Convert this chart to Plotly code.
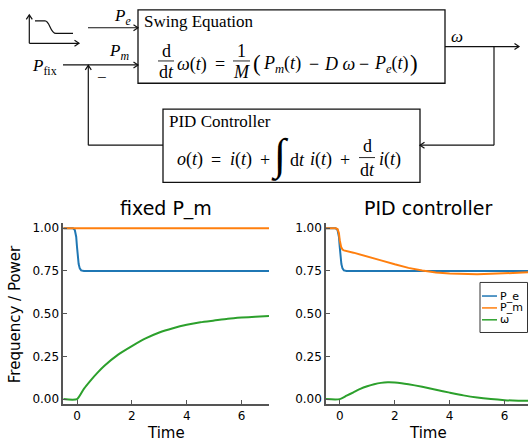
import plotly.graph_objects as go

# ---------------- data ----------------
t_pe = [-0.5, -0.15, -0.08, -0.03, 0.0, 0.03, 0.06, 0.1, 0.15, 0.25, 7.0]
pe = [1.0, 1.0, 0.99, 0.95, 0.89, 0.83, 0.79, 0.765, 0.753, 0.75, 0.75]

t_pm_fixed = [-0.5, 7.0]
pm_fixed = [1.0, 1.0]

t_w_fixed = [-0.5, 0.0, 0.25, 0.5, 0.75, 1.0, 1.5, 2.0, 2.5, 3.0, 3.5, 4.0,
             4.5, 5.0, 5.5, 6.0, 6.5, 7.0]
w_fixed = [0.0, 0.0, 0.06, 0.11, 0.155, 0.195, 0.26, 0.31, 0.355, 0.39, 0.415,
           0.435, 0.45, 0.46, 0.47, 0.477, 0.482, 0.486]

t_pm_pid = [-0.5, -0.15, -0.08, -0.03, 0.0, 0.05, 0.1, 0.15, 0.5, 1.0, 1.5, 2.0,
            2.5, 3.0, 3.5, 4.0, 4.5, 5.0, 5.5, 6.0, 6.5, 7.0]
pm_pid = [1.0, 1.0, 0.995, 0.97, 0.93, 0.89, 0.875, 0.87, 0.857, 0.836, 0.812,
          0.789, 0.768, 0.752, 0.741, 0.735, 0.732, 0.731, 0.733, 0.736, 0.74, 0.743]

t_w_pid = [-0.5, 0.0, 0.25, 0.5, 0.75, 1.0, 1.25, 1.5, 1.75, 2.0, 2.25, 2.5, 3.0,
           3.5, 4.0, 4.5, 5.0, 5.5, 6.0, 6.5, 7.0]
w_pid = [0.0, 0.0, 0.02, 0.04, 0.06, 0.075, 0.087, 0.095, 0.098, 0.097, 0.093,
         0.087, 0.072, 0.055, 0.038, 0.022, 0.009, 0.0, -0.006, -0.009, -0.01]

series_names = ["P_e", "P_m", "ω"]
colors = ["#1f77b4", "#ff7f0e", "#2ca02c"]
x_ticks = [0, 2, 4, 6]
y_ticks = [0, 0.25, 0.5, 0.75, 1.0]
titles = ["fixed P_m", "PID controller"]

# ---------------- helpers ----------------
W, H = 528, 444
SERIF = "Liberation Serif"
SANS = "DejaVu Sans"
K = "#111111"
MS = 18  # math font size


def X(p):
    return p / W


def Y(p):
    return 1 - p / H


shapes = []
annos = []


def line(x0, y0, x1, y1, w=1.2, color=K):
    shapes.append(dict(type="line", xref="paper", yref="paper",
                       x0=X(x0), y0=Y(y0), x1=X(x1), y1=Y(y1),
                       line=dict(color=color, width=w)))


def path(d, w=1.2):
    shapes.append(dict(type="path", xref="paper", yref="paper", path=d,
                       line=dict(color=K, width=w)))


def P(x, y):
    return f"{X(x):.5f},{Y(y):.5f}"


def head(x, y, direction):
    L, S = 4.5, 3.0
    if direction == "r":
        a, b = (x - L, y - S), (x - L, y + S)
    elif direction == "l":
        a, b = (x + L, y - S), (x + L, y + S)
    else:  # up
        a, b = (x - S, y + L), (x + S, y + L)
    path(f"M {P(*a)} L {P(x, y)} L {P(*b)}")


def text(x, y, s, size=MS, family=SERIF, xanchor="center", color="black", angle=0):
    annos.append(dict(x=X(x), y=Y(y), xref="paper", yref="paper", text=s,
                      showarrow=False, xanchor=xanchor, yanchor="middle",
                      font=dict(family=family, size=size, color=color),
                      textangle=angle, borderpad=0))


def frac(xc, y_num, y_bar, y_den, num, den, half):
    text(xc, y_num, num)
    text(xc, y_den, den)
    line(xc - half, y_bar, xc + half, y_bar, w=0.9)


# ---------------- block diagram ----------------
shapes.append(dict(type="rect", xref="paper", yref="paper",
                   x0=X(138), y0=Y(82), x1=X(445), y1=Y(8),
                   line=dict(color=K, width=1.3)))
shapes.append(dict(type="rect", xref="paper", yref="paper",
                   x0=X(163), y0=Y(182), x1=X(420), y1=Y(108),
                   line=dict(color=K, width=1.3)))

# small step icon
line(29.3, 41.7, 29.3, 13)
head(29.3, 13, "u")
line(29.3, 41.7, 79, 41.7)
head(79, 41.7, "r")
path(f"M {P(35, 19)} L {P(45, 19)} C {P(50, 19)} {P(50, 31.7)} {P(56, 31.7)} L {P(73, 31.7)}")

# P_e arrow
line(88, 26, 138, 26)
head(138, 26, "r")
text(122, 15, "<i>P</i><sub><i>e</i></sub>", size=17)

# P_fix / P_m arrow
line(63, 63.5, 138, 63.5)
head(138, 63.5, "r")
text(119, 50, "<i>P</i><sub><i>m</i></sub>", size=17)
text(44, 66, "<i>P</i><sub>fix</sub>", size=17)
text(102, 76, "−", size=17)

# feedback loop
line(88.3, 144.5, 88.3, 64)
head(88.3, 64, "u")
line(88.3, 144.5, 163, 144.5)
line(445, 45, 519, 45)
head(519, 45, "r")
text(457, 35, "<i>ω</i>", size=17)
line(494, 45, 494, 144.5)
line(494, 144.5, 420, 144.5)
head(420, 144.5, "l")

# Swing equation box text
text(143, 20, "Swing Equation", size=17, xanchor="left")
frac(166, 49, 59.5, 71, "d", "d<i>t</i>", 8)
text(192, 63, "<i>ω</i>(<i>t</i>)")
text(219.5, 63, "=")
frac(241.5, 49, 59.5, 71, "1", "<i>M</i>", 8.5)
text(256.5, 62, "(", size=23)
text(282, 63, "<i>P</i><sub><i>m</i></sub>(<i>t</i>)")
text(314, 63, "−")
text(339, 63, "<i>D</i> <i>ω</i>")
text(364, 63, "−")
text(391, 63, "<i>P</i><sub><i>e</i></sub>(<i>t</i>)")
text(414, 62, ")", size=23)

# PID box text
text(168, 121, "PID Controller", size=17, xanchor="left")
text(189.5, 159, "<i>o</i>(<i>t</i>)")
text(216, 159, "=")
text(240.5, 159, "<i>i</i>(<i>t</i>)")
text(264.5, 159, "+")
text(280, 155, "∫", size=44)
text(297, 159, "d<i>t</i>")
text(320.5, 159, "<i>i</i>(<i>t</i>)")
text(345, 159, "+")
frac(367, 145, 157, 169.5, "d", "d<i>t</i>", 8)
text(390, 159, "<i>i</i>(<i>t</i>)")

# ---------------- plots ----------------
fig = go.Figure()

left = [(t_pe, pe), (t_pm_fixed, pm_fixed), (t_w_fixed, w_fixed)]
right = [(t_pe, pe), (t_pm_pid, pm_pid), (t_w_pid, w_pid)]

for axes, data in (("", left), ("2", right)):
    for (tx, ty), name, c in zip(data, series_names, colors):
        fig.add_trace(go.Scatter(x=tx, y=ty, mode="lines", name=name, showlegend=False,
                                 line=dict(color=c, width=2,
                                           shape="spline" if name == "ω" else "linear",
                                           smoothing=0.6 if name == "ω" else None),
                                 xaxis="x" + axes, yaxis="y" + axes))

ydom = [Y(405.9), Y(223.1)]
axis_common = dict(showline=True, linecolor="#555555", linewidth=1.5, ticks="inside",
                   ticklen=4, tickcolor="#555555", tickwidth=1, showgrid=False,
                   zeroline=False, tickfont=dict(family=SANS, size=12, color="black"))

fig.update_layout(
    width=W, height=H,
    margin=dict(l=0, r=0, t=0, b=0),
    paper_bgcolor="white", plot_bgcolor="white",
    showlegend=False,
    xaxis=dict(domain=[X(63.3), X(269)], anchor="y", range=[-0.5, 7],
               tickvals=x_ticks, **axis_common),
    yaxis=dict(domain=ydom, anchor="x", range=[-0.03, 1.03], tickvals=y_ticks,
               tickformat=".2f", **axis_common),
    xaxis2=dict(domain=[X(326), 1.0], anchor="y2", range=[-0.5, 6.85],
                tickvals=x_ticks, **axis_common),
    yaxis2=dict(domain=ydom, anchor="x2", range=[-0.03, 1.03], tickvals=y_ticks,
                tickformat=".2f", **axis_common),
)

# subplot titles and axis titles
text(166, 208, titles[0], size=19, family=SANS)
text(428, 208, titles[1], size=19, family=SANS)
text(166, 435, "Time", size=15, family=SANS)
text(428, 435, "Time", size=15, family=SANS)
text(15, 315, "Frequency / Power", size=15, family=SANS, angle=-90)

# legend (right subplot)
shapes.append(dict(type="rect", xref="paper", yref="paper",
                   x0=X(480), y0=Y(333.5), x1=X(527.5), y1=Y(283),
                   line=dict(color="#333333", width=1), fillcolor="white", layer="above"))
for i, (name, c) in enumerate(zip(series_names, colors)):
    yy = 296.7 + 12 * i
    line(482, yy, 497, yy, w=1.5, color=c)
    text(498.5, yy, name, size=11, family=SANS, xanchor="left")

fig.update_layout(shapes=shapes, annotations=annos)
fig.write_html("out.html", config={"displayModeBar": False},
               post_script="document.body.style.margin='0px';document.body.style.padding='0px';")
